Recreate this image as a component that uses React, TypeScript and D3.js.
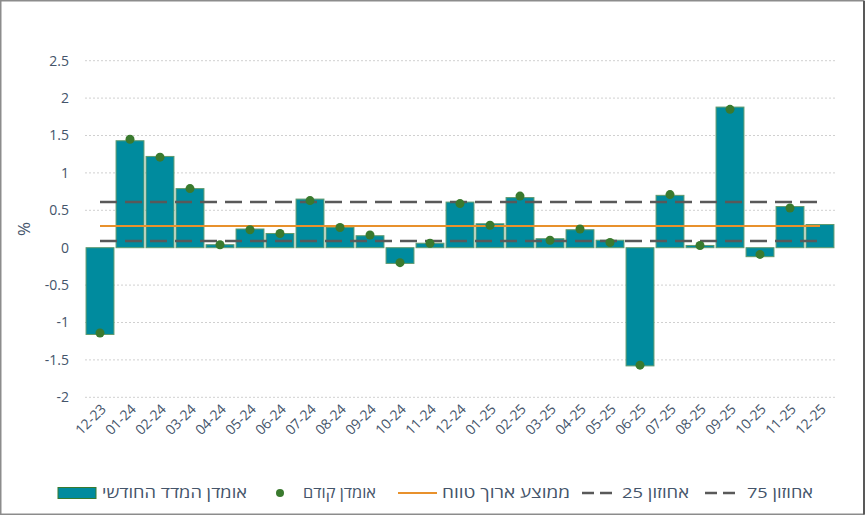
import { useEffect, useRef } from "react";
import * as d3 from "d3";

const months = [
  "12-23", "01-24", "02-24", "03-24", "04-24", "05-24", "06-24", "07-24", "08-24",
  "09-24", "10-24", "11-24", "12-24", "01-25", "02-25", "03-25", "04-25", "05-25",
  "06-25", "07-25", "08-25", "09-25", "10-25", "11-25", "12-25",
];

const estimate = [
  -1.16, 1.43, 1.22, 0.79, 0.04, 0.25, 0.19, 0.65, 0.27, 0.16, -0.21, 0.06, 0.61,
  0.32, 0.67, 0.12, 0.24, 0.1, -1.58, 0.7, 0.03, 1.88, -0.12, 0.55, 0.31,
];

const previous: (number | null)[] = [
  -1.14, 1.45, 1.21, 0.79, 0.04, 0.24, 0.19, 0.63, 0.27, 0.17, -0.2, 0.06, 0.59,
  0.3, 0.69, 0.1, 0.25, 0.07, -1.57, 0.71, 0.03, 1.85, -0.09, 0.53, null,
];

const longRunMean = 0.29;
const pct25 = 0.09;
const pct75 = 0.61;

const yTicks = [-2, -1.5, -1, -0.5, 0, 0.5, 1, 1.5, 2, 2.5];

const legendLabels = {
  bars: "אומדן המדד החודשי",
  dots: "אומדן קודם",
  mean: "ממוצע ארוך טווח",
  p25: "אחוזון 25",
  p75: "אחוזון 75",
};

const W = 866;
const H = 517;
const textColor = "#44546A";
const font = "'Open Sans', sans-serif";

export default function App() {
  const svgRef = useRef<SVGSVGElement>(null);

  useEffect(() => {
    const svg = d3.select(svgRef.current);
    svg.selectAll("*").remove();

    const x = d3.scaleBand().domain(months).range([85, 835]).paddingInner(0.07).paddingOuter(0.035);
    const y = d3.scaleLinear().domain([-2, 2.5]).range([397.3, 60.7]);

    // frame
    svg.append("rect").attr("x", 0.75).attr("y", 0.75).attr("width", 863).attr("height", 513.5)
      .attr("fill", "white").attr("stroke", "#8c8c8c").attr("stroke-width", 1.5);
    svg.append("line").attr("x1", 864).attr("x2", 864).attr("y1", 1).attr("y2", 514.5)
      .attr("stroke", "#595959").attr("stroke-width", 2);

    // grid
    svg.append("g").selectAll("line").data(yTicks.filter((t) => t !== 0)).join("line")
      .attr("x1", 85).attr("x2", 835)
      .attr("y1", (d) => y(d)).attr("y2", (d) => y(d))
      .attr("stroke", "#d0d0d0").attr("stroke-dasharray", "2,2");

    // y tick labels
    svg.append("g").selectAll("text").data(yTicks).join("text")
      .attr("x", 69).attr("y", (d) => y(d)).attr("dy", "0.35em")
      .attr("text-anchor", "end").attr("fill", textColor)
      .attr("font-family", font).attr("font-size", 14)
      .text((d) => String(d));

    svg.append("text").attr("transform", `translate(30,229) rotate(-90)`)
      .attr("text-anchor", "middle").attr("fill", textColor)
      .attr("font-family", font).attr("font-size", 17).text("%");

    // bars
    svg.append("g").selectAll("rect").data(estimate).join("rect")
      .attr("x", (_, i) => x(months[i])!)
      .attr("width", x.bandwidth())
      .attr("y", (d) => y(Math.max(0, d)))
      .attr("height", (d) => Math.abs(y(d) - y(0)))
      .attr("fill", "#008B9E")
      .attr("stroke", "#5f9a6e").attr("stroke-width", 1);

    const cx = (i: number) => x(months[i])! + x.bandwidth() / 2;
    const x0 = cx(0);
    const x1 = cx(months.length - 1);

    // reference lines
    svg.append("line").attr("x1", x0).attr("x2", x1).attr("y1", y(pct75)).attr("y2", y(pct75))
      .attr("stroke", "#595959").attr("stroke-width", 2.5).attr("stroke-dasharray", "17,8");
    svg.append("line").attr("x1", x0).attr("x2", x1).attr("y1", y(pct25)).attr("y2", y(pct25))
      .attr("stroke", "#595959").attr("stroke-width", 2.5).attr("stroke-dasharray", "17,8");
    svg.append("line").attr("x1", x0).attr("x2", x1).attr("y1", y(longRunMean)).attr("y2", y(longRunMean))
      .attr("stroke", "#E8912C").attr("stroke-width", 2);

    // previous estimate dots
    svg.append("g").selectAll("circle")
      .data(previous.map((v, i) => ({ v, i })).filter((d) => d.v !== null))
      .join("circle")
      .attr("cx", (d) => cx(d.i)).attr("cy", (d) => y(d.v as number))
      .attr("r", 4.5).attr("fill", "#3A7A2E");

    // x labels
    svg.append("g").selectAll("text").data(months).join("text")
      .attr("transform", (d) => `translate(${x(d)! + x.bandwidth() / 2 + 7},${410}) rotate(-45)`)
      .attr("text-anchor", "end").attr("fill", textColor)
      .attr("font-family", font).attr("font-size", 14)
      .text((d) => d);

    // legend
    const lg = svg.append("g").attr("font-family", font).attr("font-size", 15).attr("fill", textColor);
    const ly = 493;
    lg.append("rect").attr("x", 58).attr("y", ly - 5.5).attr("width", 38).attr("height", 11)
      .attr("fill", "#008B9E").attr("stroke", "#3A7A2E").attr("stroke-width", 1);
    const addText = (x1: number, x2: number, t: string) =>
      lg.append("text").attr("x", x1).attr("y", ly).attr("dy", "0.35em")
        .attr("textLength", x2 - x1).attr("lengthAdjust", "spacingAndGlyphs").text(t);
    addText(102, 247, legendLabels.bars);
    lg.append("circle").attr("cx", 280).attr("cy", ly).attr("r", 4).attr("fill", "#3A7A2E");
    addText(303, 376, legendLabels.dots);
    lg.append("line").attr("x1", 398).attr("x2", 437).attr("y1", ly).attr("y2", ly)
      .attr("stroke", "#E8912C").attr("stroke-width", 2);
    addText(442, 570, legendLabels.mean);
    lg.append("line").attr("x1", 582).attr("x2", 617).attr("y1", ly).attr("y2", ly)
      .attr("stroke", "#595959").attr("stroke-width", 2.5).attr("stroke-dasharray", "12,6");
    addText(622, 689, legendLabels.p25);
    lg.append("line").attr("x1", 705).attr("x2", 741).attr("y1", ly).attr("y2", ly)
      .attr("stroke", "#595959").attr("stroke-width", 2.5).attr("stroke-dasharray", "12,6");
    addText(747, 813, legendLabels.p75);
  }, []);

  return (
    <svg
      ref={svgRef}
      width={W}
      height={H}
      style={{ position: "absolute", left: 0, top: 0, background: "white" }}
    />
  );
}
